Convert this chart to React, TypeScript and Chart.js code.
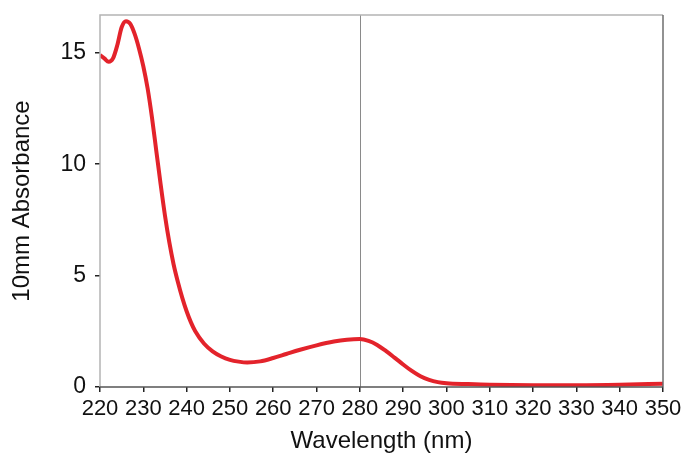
import React, { useEffect, useRef } from "react";
import { Chart, registerables } from "chart.js";

Chart.register(...registerables);

const wavelengths = [
  220, 221, 222, 223, 224, 225, 226, 227, 228, 229, 230, 231, 232, 233, 234, 235, 236, 237, 238, 239,
  240, 241, 242, 244, 246, 248, 250, 252, 254, 257, 260, 263, 266, 270, 274, 277, 280, 282, 284, 286,
  288, 290, 292, 294, 296, 298, 300, 305, 310, 320, 330, 340, 350,
];
const absorbance = [
  14.9, 14.75, 14.6, 14.75, 15.35, 16.15, 16.42, 16.3, 15.85, 15.2, 14.4, 13.4, 12.1, 10.6, 9.1, 7.7, 6.5, 5.5, 4.7, 4.0,
  3.4, 2.9, 2.5, 1.95, 1.6, 1.37, 1.22, 1.14, 1.1, 1.15, 1.3, 1.48, 1.66, 1.87, 2.04, 2.12, 2.15, 2.07, 1.89, 1.62,
  1.32, 1.01, 0.72, 0.48, 0.32, 0.22, 0.17, 0.13, 0.1, 0.08, 0.08, 0.1, 0.15,
];
const xTicks = [220, 230, 240, 250, 260, 270, 280, 290, 300, 310, 320, 330, 340, 350];
const yTicks = [0, 5, 10, 15];
const markerWavelength = 280;
const xTitle = "Wavelength (nm)";
const yTitle = "10mm Absorbance";

const FONT = "'Liberation Sans', Arial, Helvetica, sans-serif";

export default function App() {
  const ref = useRef<HTMLCanvasElement | null>(null);

  useEffect(() => {
    document.body.style.margin = "0";
    const canvas = ref.current;
    if (!canvas) return;

    const framePlugin = {
      id: "frame",
      afterDatasetsDraw(chart: any) {
        const { ctx, chartArea } = chart;
        ctx.save();
        ctx.strokeStyle = "#b4b4b4";
        ctx.lineWidth = 1.5;
        ctx.beginPath();
        ctx.moveTo(chartArea.left, chartArea.bottom);
        ctx.lineTo(chartArea.left, chartArea.top);
        ctx.lineTo(chartArea.right, chartArea.top);
        ctx.stroke();
        ctx.strokeStyle = "#6e6e6e";
        ctx.beginPath();
        ctx.moveTo(chartArea.right, chartArea.top);
        ctx.lineTo(chartArea.right, chartArea.bottom);
        ctx.stroke();
        ctx.strokeStyle = "#555";
        ctx.beginPath();
        ctx.moveTo(chartArea.left, chartArea.bottom);
        ctx.lineTo(chartArea.right, chartArea.bottom);
        ctx.stroke();
        ctx.restore();
      },
      beforeDatasetsDraw(chart: any) {
        const { ctx, chartArea, scales } = chart;
        const px = scales.x.getPixelForValue(markerWavelength);
        ctx.save();
        ctx.strokeStyle = "#8a8a8a";
        ctx.lineWidth = 1;
        ctx.beginPath();
        ctx.moveTo(Math.round(px) + 0.5, chartArea.top);
        ctx.lineTo(Math.round(px) + 0.5, chartArea.bottom);
        ctx.stroke();
        ctx.restore();
      },
    };

    const chart = new Chart(canvas, {
      type: "line",
      data: {
        datasets: [
          {
            data: wavelengths.map((w, i) => ({ x: w, y: absorbance[i] })),
            borderColor: "#e3232b",
            borderWidth: 4,
            pointRadius: 0,
            cubicInterpolationMode: "monotone",
            fill: false,
          },
        ],
      },
      options: {
        animation: false,
        responsive: false,
        layout: { padding: { top: 15, right: 21, left: 0, bottom: 0 } },
        plugins: { legend: { display: false }, tooltip: { enabled: false } },
        scales: {
          x: {
            type: "linear",
            min: 220,
            max: 350,
            afterBuildTicks: (s: any) => {
              s.ticks = xTicks.map((v) => ({ value: v }));
            },
            afterFit: (s: any) => {
              s.height = 72;
              s.paddingLeft = 0;
              s.paddingRight = 0;
            },
            grid: { drawOnChartArea: false, drawTicks: true, tickLength: 5, color: "#222", lineWidth: 1.5 },
            border: { display: false },
            ticks: {
              autoSkip: false,
              maxRotation: 0,
              padding: 4,
              color: "#111",
              font: { family: FONT, size: 22 },
              callback: (v: any) => String(v),
            },
            title: {
              display: true,
              text: xTitle,
              color: "#111",
              font: { family: FONT, size: 24, lineHeight: 1 },
              padding: { top: 0, bottom: 6 },
            },
          },
          y: {
            type: "linear",
            min: 0,
            max: 16.7,
            afterBuildTicks: (s: any) => {
              s.ticks = yTicks.map((v) => ({ value: v }));
            },
            afterFit: (s: any) => {
              s.width = 100;
              s.paddingTop = 0;
              s.paddingBottom = 0;
            },
            grid: { drawOnChartArea: false, drawTicks: true, tickLength: 5, color: "#222", lineWidth: 1.5 },
            border: { display: false },
            ticks: {
              padding: 9,
              color: "#111",
              font: { family: FONT, size: 23 },
              callback: (v: any) => String(v),
            },
            title: {
              display: true,
              text: yTitle,
              color: "#111",
              font: { family: FONT, size: 24, lineHeight: 1 },
              padding: { top: 10, bottom: 0 },
            },
          },
        },
      },
      plugins: [framePlugin],
    } as any);

    return () => chart.destroy();
  }, []);

  return (
    <div style={{ width: 684, height: 459, background: "#fff" }}>
      <canvas ref={ref} width={684} height={459} style={{ display: "block" }} />
    </div>
  );
}
